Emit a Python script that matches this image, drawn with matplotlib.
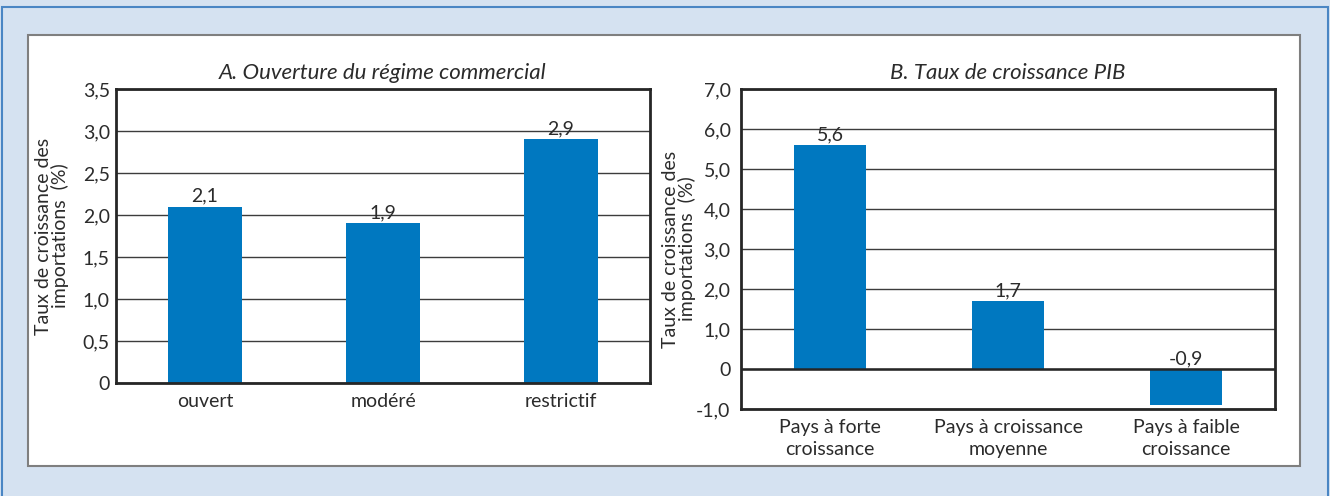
import matplotlib.pyplot as plt
from matplotlib.patches import Rectangle
from matplotlib.ticker import FuncFormatter

plt.rcParams['font.family'] = ['Lato', 'DejaVu Sans']

# Panel A: import growth by trade regime openness
regimes = ["ouvert", "modéré", "restrictif"]
regime_growth = [2.1, 1.9, 2.9]

# Panel B: import growth by GDP growth group
groups = ["Pays à forte\ncroissance", "Pays à croissance\nmoyenne", "Pays à faible\ncroissance"]
group_growth = [5.6, 1.7, -0.9]

ylabel = "Taux de croissance des\nimportations  (%)"
bar_color = '#0078c0'
text_color = '#2b2b2b'
W, H = 1330, 496

fig = plt.figure(figsize=(W / 100, H / 100), dpi=100, facecolor='#d5e2f1')

# outer frame and white inner panel (drawn behind the axes)
fig.patches.append(Rectangle((2 / W, -0.05), 1326 / W, 1.05 - 7 / H, transform=fig.transFigure,
                             facecolor='none', edgecolor='#4a86c4', linewidth=1.5, zorder=-10))
fig.patches.append(Rectangle((28 / W, 1 - 466 / H), 1272 / W, 431 / H, transform=fig.transFigure,
                             facecolor='white', edgecolor='#7f7f7f', linewidth=1.5, zorder=-10))


def fr_fmt(v, pos):
    if abs(v) < 1e-9:
        return "0"
    return f"{v:.1f}".replace(".", ",")


def style_axes(ax, ylim, step, title, ypad):
    ax.set_facecolor('white')
    ax.set_ylim(*ylim)
    n = int(round((ylim[1] - ylim[0]) / step))
    ax.set_yticks([ylim[0] + i * step for i in range(n + 1)])
    ax.yaxis.set_major_formatter(FuncFormatter(fr_fmt))
    ax.grid(axis='y', color='#3c3c3c', linewidth=1)
    ax.set_axisbelow(True)
    for s in ax.spines.values():
        s.set_color('#262626')
        s.set_linewidth(2)
    ax.tick_params(length=0, labelsize=14, colors=text_color)
    ax.tick_params(axis='y', pad=ypad)
    ax.tick_params(axis='x', pad=7)
    for lbl in ax.get_xticklabels():
        lbl.set_linespacing(1.35)
    ax.set_title(title, fontstyle='italic', fontsize=16, color=text_color, pad=7)
    ax.set_ylabel(ylabel, fontsize=14, color=text_color, linespacing=0.92)


def bar_labels(ax, values, offset):
    for i, v in enumerate(values):
        ax.text(i, max(v, 0) + offset, fr_fmt(v, None), ha='center', va='bottom',
                fontsize=14, color=text_color)


ax1 = fig.add_axes([116 / W, 1 - 383 / H, 534 / W, 294 / H])
ax1.bar(range(len(regimes)), regime_growth, width=0.42, color=bar_color, zorder=2)
ax1.set_xlim(-0.5, len(regimes) - 0.5)
ax1.set_xticks(range(len(regimes)), regimes)
style_axes(ax1, (0, 3.5), 0.5, "A. Ouverture du régime commercial", 4.5)
ax1.yaxis.set_label_coords(-0.088, 0.5)
bar_labels(ax1, regime_growth, 0.03)

ax2 = fig.add_axes([741 / W, 1 - 409 / H, 534 / W, 320 / H])
ax2.bar(range(len(groups)), group_growth, width=0.4, color=bar_color, zorder=2)
ax2.set_xlim(-0.5, len(groups) - 0.5)
ax2.set_xticks(range(len(groups)), groups)
style_axes(ax2, (-1.0, 7.0), 1.0, "B. Taux de croissance PIB", 7.5)
ax2.axhline(0, color='#262626', linewidth=1.8, zorder=3)
ax2.yaxis.set_label_coords(-0.084, 0.5)
bar_labels(ax2, group_growth, 0.05)

fig.savefig("out.png", dpi=100, facecolor=fig.get_facecolor())
